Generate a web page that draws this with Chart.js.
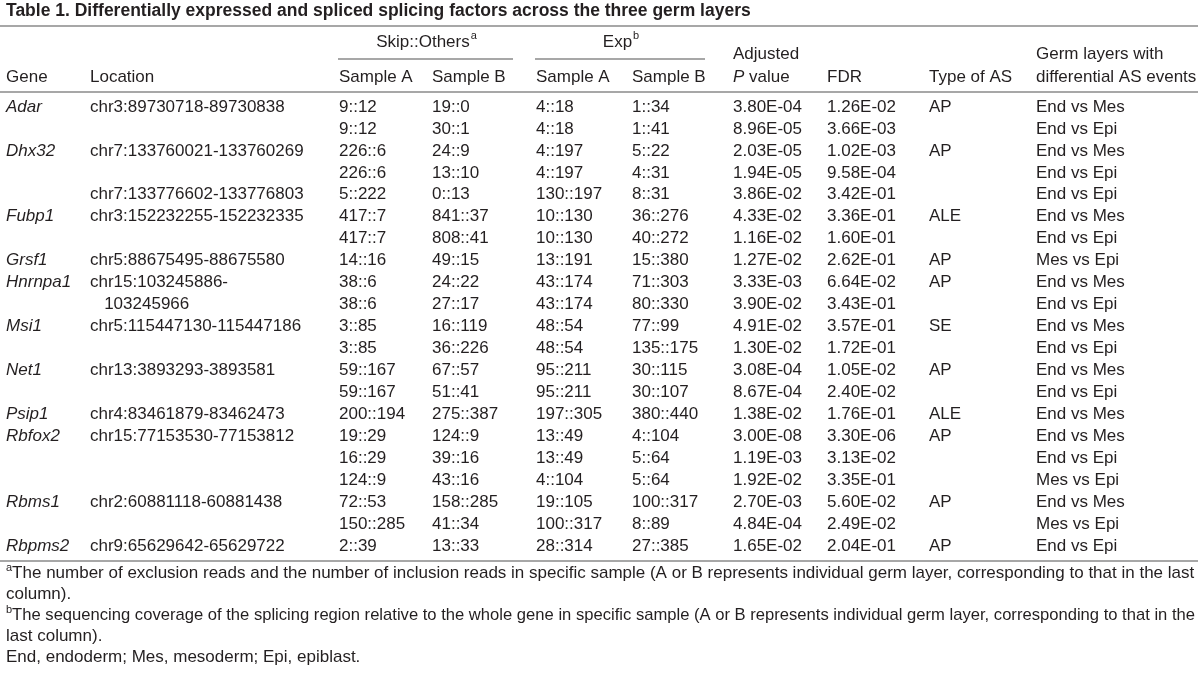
<!DOCTYPE html>
<html>
<head>
<meta charset="utf-8">
<script src="https://cdn.jsdelivr.net/npm/chart.js@4.4.1/dist/chart.umd.min.js"></script>
<style>
  html, body { margin: 0; padding: 0; background: #fff; }
  #tableChart { display: block; }
</style>
</head>
<body>
<canvas id="tableChart" width="1200" height="678"></canvas>
<script>
// Table data, one array per column
var genes = ['Adar', '', 'Dhx32', '', '', 'Fubp1', '', 'Grsf1', 'Hnrnpa1', '', 'Msi1', '', 'Net1', '', 'Psip1', 'Rbfox2', '', '', 'Rbms1', '', 'Rbpms2'];
var locations = ['chr3:89730718-89730838', '', 'chr7:133760021-133760269', '', 'chr7:133776602-133776803',
	'chr3:152232255-152232335', '', 'chr5:88675495-88675580', 'chr15:103245886-', '   103245966',
	'chr5:115447130-115447186', '', 'chr13:3893293-3893581', '', 'chr4:83461879-83462473',
	'chr15:77153530-77153812', '', '', 'chr2:60881118-60881438', '', 'chr9:65629642-65629722'];
var skipA = ['9::12', '9::12', '226::6', '226::6', '5::222', '417::7', '417::7', '14::16', '38::6', '38::6', '3::85', '3::85', '59::167', '59::167', '200::194', '19::29', '16::29', '124::9', '72::53', '150::285', '2::39'];
var skipB = ['19::0', '30::1', '24::9', '13::10', '0::13', '841::37', '808::41', '49::15', '24::22', '27::17', '16::119', '36::226', '67::57', '51::41', '275::387', '124::9', '39::16', '43::16', '158::285', '41::34', '13::33'];
var expA = ['4::18', '4::18', '4::197', '4::197', '130::197', '10::130', '10::130', '13::191', '43::174', '43::174', '48::54', '48::54', '95::211', '95::211', '197::305', '13::49', '13::49', '4::104', '19::105', '100::317', '28::314'];
var expB = ['1::34', '1::41', '5::22', '4::31', '8::31', '36::276', '40::272', '15::380', '71::303', '80::330', '77::99', '135::175', '30::115', '30::107', '380::440', '4::104', '5::64', '5::64', '100::317', '8::89', '27::385'];
var adjP = ['3.80E-04', '8.96E-05', '2.03E-05', '1.94E-05', '3.86E-02', '4.33E-02', '1.16E-02', '1.27E-02', '3.33E-03', '3.90E-02', '4.91E-02', '1.30E-02', '3.08E-04', '8.67E-04', '1.38E-02', '3.00E-08', '1.19E-03', '1.92E-02', '2.70E-03', '4.84E-04', '1.65E-02'];
var fdr = ['1.26E-02', '3.66E-03', '1.02E-03', '9.58E-04', '3.42E-01', '3.36E-01', '1.60E-01', '2.62E-01', '6.64E-02', '3.43E-01', '3.57E-01', '1.72E-01', '1.05E-02', '2.40E-02', '1.76E-01', '3.30E-06', '3.13E-02', '3.35E-01', '5.60E-02', '2.49E-02', '2.04E-01'];
var asType = ['AP', '', 'AP', '', '', 'ALE', '', 'AP', 'AP', '', 'SE', '', 'AP', '', 'ALE', 'AP', '', '', 'AP', '', 'AP'];
var germLayers = ['End vs Mes', 'End vs Epi', 'End vs Mes', 'End vs Epi', 'End vs Epi', 'End vs Mes', 'End vs Epi', 'Mes vs Epi', 'End vs Mes', 'End vs Epi', 'End vs Mes', 'End vs Epi', 'End vs Mes', 'End vs Epi', 'End vs Mes', 'End vs Mes', 'End vs Epi', 'Mes vs Epi', 'End vs Mes', 'Mes vs Epi', 'End vs Epi'];

var title = 'Table 1. Differentially expressed and spliced splicing factors across the three germ layers';
var footnotes = [
	['a', 'The number of exclusion reads and the number of inclusion reads in specific sample (A or B represents individual germ layer, corresponding to that in the last'],
	['', 'column).'],
	['b', 'The sequencing coverage of the splicing region relative to the whole gene in specific sample (A or B represents individual germ layer, corresponding to that in the'],
	['', 'last column).'],
	['', 'End, endoderm; Mes, mesoderm; Epi, epiblast.']
];

// layout (kept apart from the data)
var columns = [genes, locations, skipA, skipB, expA, expB, adjP, fdr, asType, germLayers];
var colLeft = [6, 90, 339, 432, 536, 632, 733, 827, 929, 1036];
var textColor = '#231f20';
var ruleColor = '#8a8a8a';
var font = '"Liberation Sans", Arial, Helvetica, sans-serif';

var tablePlugin = {
	id: 'tableText',
	afterDatasetsDraw: function(chart) {
		var c = chart.ctx;
		var area = chart.chartArea;
		var xs = chart.scales.x;
		var px = function(i) { return xs.getPixelForValue(colLeft[i]); };
		var top = area.top, bottom = area.bottom;
		c.save();
		c.fillStyle = textColor;
		c.textBaseline = 'middle';
		c.textAlign = 'left';

		// cells
		chart.data.datasets.forEach(function(ds, d) {
			var meta = chart.getDatasetMeta(d);
			c.font = (d === 0 ? 'italic ' : '') + '17px ' + font;
			meta.data.forEach(function(pt, i) {
				var txt = columns[d][i];
				if (txt) c.fillText(txt, pt.x, pt.y);
			});
		});

		// title
		c.font = 'bold 17.5px ' + font;
		c.fillText(title, 6, top - 85);

		// rules
		c.strokeStyle = ruleColor;
		c.lineWidth = 1.5;
		var rule = function(x1, x2, y) { c.beginPath(); c.moveTo(x1, y); c.lineTo(x2, y); c.stroke(); };
		rule(0, 1198, top - 70);
		rule(px(2) - 1, px(3) + 81, top - 37);
		rule(px(4) - 1, px(5) + 73, top - 37);
		rule(0, 1198, top - 4);
		rule(0, 1198, bottom + 4);

		// header
		var h1 = top - 54, h2 = top - 42, h3 = top - 19;
		var sup = function(txt, s, cx, y) {
			c.font = '17px ' + font;
			var w = c.measureText(txt).width;
			c.font = '11px ' + font;
			var ws = c.measureText(s).width;
			var x0 = cx - (w + ws) / 2;
			c.font = '17px ' + font;
			c.fillText(txt, x0, y);
			c.font = '11px ' + font;
			c.fillText(s, x0 + w + 1, y - 6);
		};
		sup('Skip::Others', 'a', (px(2) + px(3) + 81) / 2, h1);
		sup('Exp', 'b', (px(4) + px(5) + 73) / 2, h1);
		c.font = '17px ' + font;
		c.fillText('Gene', px(0), h3);
		c.fillText('Location', px(1), h3);
		c.fillText('Sample A', px(2), h3);
		c.fillText('Sample B', px(3), h3);
		c.fillText('Sample A', px(4), h3);
		c.fillText('Sample B', px(5), h3);
		c.fillText('Adjusted', px(6), h2);
		c.font = 'italic 17px ' + font;
		c.fillText('P', px(6), h3);
		var pw = c.measureText('P ').width;
		c.font = '17px ' + font;
		c.fillText('value', px(6) + pw, h3);
		c.fillText('FDR', px(7), h3);
		c.fillText('Type of AS', px(8), h3);
		c.fillText('Germ layers with', px(9), h2);
		c.fillText('differential AS events', px(9), h3);

		// footnotes
		footnotes.forEach(function(f, i) {
			var y = bottom + 16 + i * 21;
			var x = 6;
			if (f[0]) {
				c.font = '11px ' + font;
				c.fillText(f[0], x, y - 5);
				x += c.measureText(f[0]).width;
			}
			c.font = '17px ' + font;
			c.fillText(f[1], x, y, 1195 - x);
		});
		c.restore();
	}
};

var ctx = document.getElementById('tableChart').getContext('2d');
var tableChart = new Chart(ctx, {
	type: 'scatter',
	data: {
		datasets: columns.map(function(col, d) {
			return {
				label: 'col' + d,
				data: col.map(function(v, i) { return { x: colLeft[d], y: i }; }),
				pointRadius: 0,
				pointHoverRadius: 0
			};
		})
	},
	options: {
		responsive: false,
		animation: false,
		layout: { padding: { top: 96, bottom: 121, left: 0, right: 0 } },
		plugins: { legend: { display: false }, tooltip: { enabled: false } },
		scales: {
			x: { type: 'linear', min: 0, max: 1200, display: false },
			y: { type: 'linear', min: -0.5, max: genes.length - 0.5, reverse: true, display: false }
		}
	},
	plugins: [tablePlugin]
});
</script>
</body>
</html>
